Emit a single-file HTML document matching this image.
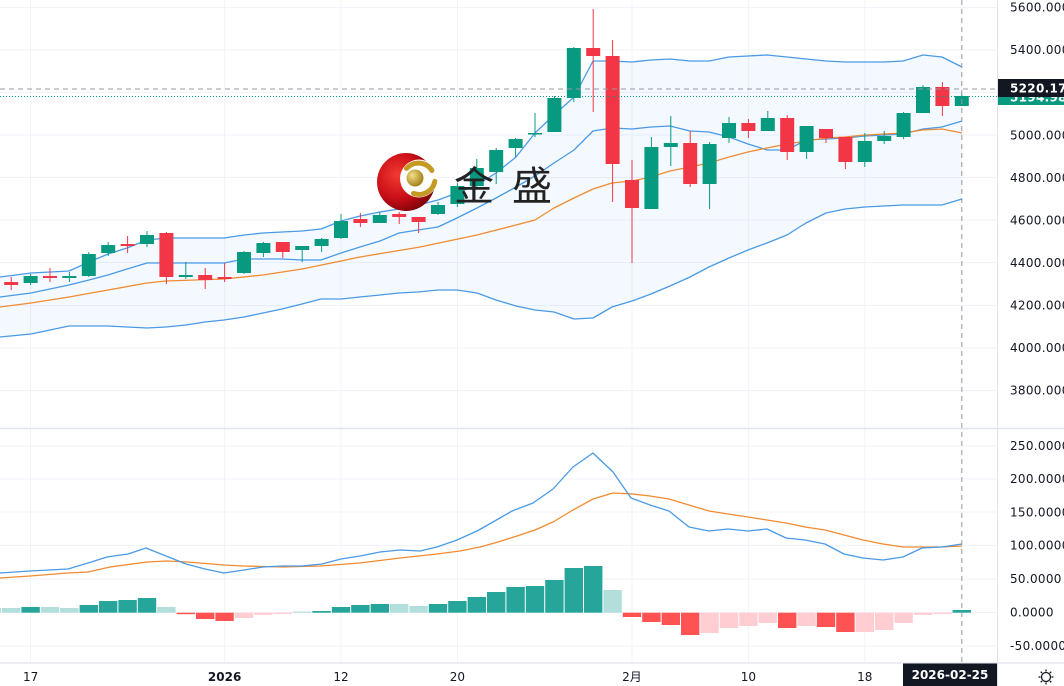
<!DOCTYPE html>
<html>
<head>
<meta charset="utf-8">
<style>
html,body{margin:0;padding:0;background:#fff;}
svg{display:block;}
.ax{font-family:"DejaVu Sans","Liberation Sans",sans-serif;font-size:12px;fill:#131722;}
</style>
</head>
<body>
<svg width="1064" height="686" viewBox="0 0 1064 686" xmlns="http://www.w3.org/2000/svg">
<defs>
<radialGradient id="rg" cx="35%" cy="38%" r="70%">
<stop offset="0" stop-color="#f23a32"/>
<stop offset="0.55" stop-color="#cc1018"/>
<stop offset="1" stop-color="#7a0008"/>
</radialGradient>
<radialGradient id="gg" cx="35%" cy="35%" r="70%">
<stop offset="0" stop-color="#f3df8a"/>
<stop offset="1" stop-color="#a07c14"/>
</radialGradient>
<clipPath id="chart"><rect x="0" y="0" width="997" height="663"/></clipPath>
</defs>
<rect width="1064" height="686" fill="#fff"/>

<g clip-path="url(#chart)">
<!-- grid -->
<g stroke="#f0f3fa" stroke-width="1">
<line x1="0" y1="7.5" x2="997" y2="7.5"/>
<line x1="0" y1="50" x2="997" y2="50"/>
<line x1="0" y1="92.5" x2="997" y2="92.5"/>
<line x1="0" y1="135" x2="997" y2="135"/>
<line x1="0" y1="177.5" x2="997" y2="177.5"/>
<line x1="0" y1="220" x2="997" y2="220"/>
<line x1="0" y1="262.5" x2="997" y2="262.5"/>
<line x1="0" y1="305.5" x2="997" y2="305.5"/>
<line x1="0" y1="348" x2="997" y2="348"/>
<line x1="0" y1="390.5" x2="997" y2="390.5"/>
<line x1="0" y1="446" x2="997" y2="446"/>
<line x1="0" y1="479" x2="997" y2="479"/>
<line x1="0" y1="512" x2="997" y2="512"/>
<line x1="0" y1="545.5" x2="997" y2="545.5"/>
<line x1="0" y1="579" x2="997" y2="579"/>
<line x1="0" y1="612.5" x2="997" y2="612.5"/>
<line x1="0" y1="646" x2="997" y2="646"/>
<line x1="30.6" y1="0" x2="30.6" y2="663"/>
<line x1="224.6" y1="0" x2="224.6" y2="663"/>
<line x1="341" y1="0" x2="341" y2="663"/>
<line x1="457.4" y1="0" x2="457.4" y2="663"/>
<line x1="632" y1="0" x2="632" y2="663"/>
<line x1="748.4" y1="0" x2="748.4" y2="663"/>
<line x1="864.8" y1="0" x2="864.8" y2="663"/>
</g>

<!-- Bollinger fill -->
<polygon fill="#2196f3" fill-opacity="0.055" points="0,277 31,273 50,272 69,271 89,262 108,254 127,248 147,240 166,238 186,238 205,238 224,238 244,235 263,233 282,232 302,231 321,229 341,221 360,216 380,212 399,209 418,205 438,200 457,193 477,185 496,173 516,157 535,133 554,115 574,97 593,61 612,61 632,62 651,60 670,59 690,61 709,61 729,57 748,56 767,55 787,57 806,59 826,61 845,62 865,62 884,62 903,61 923,55 942,57 962,67 962,199 942,205 923,205 903,205 884,206 865,207 845,209 826,213 806,223 787,235 767,243 748,250 729,258 709,267 690,277 670,286 651,294 632,301 612,307 593,318 574,319 554,312 535,310 516,306 496,300 477,293 457,290 438,290 418,292 399,293 380,295 360,297 341,299 321,299 302,304 282,309 263,313 244,317 224,320 205,322 186,325 166,327 147,328 127,327 108,326 89,326 69,326 50,330 31,334 0,337"/>
<g fill="none" stroke-width="1.3" stroke-linejoin="round">
<polyline stroke="#4a9ae6" points="0,277 31,273 50,272 69,271 89,262 108,254 127,248 147,240 166,238 186,238 205,238 224,238 244,235 263,233 282,232 302,231 321,229 341,221 360,216 380,212 399,209 418,205 438,200 457,193 477,185 496,173 516,157 535,133 554,115 574,97 593,61 612,61 632,62 651,60 670,59 690,61 709,61 729,57 748,56 767,55 787,57 806,59 826,61 845,62 865,62 884,62 903,61 923,55 942,57 962,67"/>
<polyline stroke="#4a9ae6" points="0,337 31,334 50,330 69,326 89,326 108,326 127,327 147,328 166,327 186,325 205,322 224,320 244,317 263,313 282,309 302,304 321,299 341,299 360,297 380,295 399,293 418,292 438,290 457,290 477,293 496,300 516,306 535,310 554,312 574,319 593,318 612,307 632,301 651,294 670,286 690,277 709,267 729,258 748,250 767,243 787,235 806,223 826,213 845,209 865,207 884,206 903,205 923,205 942,205 962,199"/>
<polyline stroke="#4a9ae6" points="0,297 31,293 50,289 69,285 89,280 108,275 127,269 147,263 166,263 186,263 205,263 224,263 244,259 263,259 282,259 302,260 321,260 341,253 360,247 380,241 399,233 418,230 438,227 457,218 477,208 496,198 516,187 535,176 554,163 574,150 593,131 612,128 632,129 651,127 670,126 690,131 709,132 729,137 748,144 767,150 787,150 806,140 826,139 845,138 865,136 884,135 903,134 923,129 942,127 962,121"/>
<polyline stroke="#f28b30" points="0,307 31,303 69,297 108,290 147,283 166,281 224,279 263,275 302,269 341,261 360,257 420,247 477,235 516,225 535,220 554,208 574,198 593,189 612,183 632,181 651,177 670,171 690,167 709,163 729,157 748,152 767,148 787,144 806,141 826,138 845,137 865,135 884,134 903,133 923,130 942,129 962,133"/>
</g>

<!-- candles: down -->
<g fill="#f23645" stroke="#f23645">
<line x1="11.2" y1="277" x2="11.2" y2="290"/><rect x="4.2" y="282" width="14" height="3" stroke="none"/>
<line x1="50" y1="268" x2="50" y2="282"/><rect x="43" y="276" width="14" height="2" stroke="none"/>
<line x1="127.6" y1="236" x2="127.6" y2="253"/><rect x="120.6" y="244" width="14" height="2" stroke="none"/>
<line x1="166.4" y1="232" x2="166.4" y2="284"/><rect x="159.4" y="233" width="14" height="44" stroke="none"/>
<line x1="205.2" y1="268" x2="205.2" y2="289"/><rect x="198.2" y="275" width="14" height="5" stroke="none"/>
<line x1="224.6" y1="263" x2="224.6" y2="282"/><rect x="217.6" y="277" width="14" height="2" stroke="none"/>
<line x1="282.8" y1="242" x2="282.8" y2="258"/><rect x="275.8" y="242" width="14" height="10" stroke="none"/>
<line x1="360.4" y1="213" x2="360.4" y2="227"/><rect x="353.4" y="219" width="14" height="4" stroke="none"/>
<line x1="399.2" y1="212" x2="399.2" y2="224"/><rect x="392.2" y="214" width="14" height="3" stroke="none"/>
<line x1="418.6" y1="217" x2="418.6" y2="233"/><rect x="411.6" y="217" width="14" height="5" stroke="none"/>
<line x1="593.2" y1="9" x2="593.2" y2="112"/><rect x="586.2" y="48" width="14" height="8" stroke="none"/>
<line x1="612.6" y1="40" x2="612.6" y2="202"/><rect x="605.6" y="56" width="14" height="108" stroke="none"/>
<line x1="632" y1="160" x2="632" y2="263"/><rect x="625" y="180" width="14" height="28" stroke="none"/>
<line x1="690.2" y1="131" x2="690.2" y2="187"/><rect x="683.2" y="143" width="14" height="41" stroke="none"/>
<line x1="748.4" y1="119" x2="748.4" y2="138"/><rect x="741.4" y="123" width="14" height="8" stroke="none"/>
<line x1="787.2" y1="115" x2="787.2" y2="160"/><rect x="780.2" y="118" width="14" height="34" stroke="none"/>
<line x1="826" y1="129" x2="826" y2="143"/><rect x="819" y="129" width="14" height="9" stroke="none"/>
<line x1="845.4" y1="137" x2="845.4" y2="169"/><rect x="838.4" y="137" width="14" height="25" stroke="none"/>
<line x1="942.4" y1="82" x2="942.4" y2="116"/><rect x="935.4" y="87" width="14" height="19" stroke="none"/>
</g>
<!-- candles: up -->
<g fill="#089981" stroke="#089981">
<line x1="30.6" y1="274" x2="30.6" y2="285"/><rect x="23.6" y="276" width="14" height="7" stroke="none"/>
<line x1="69.4" y1="272" x2="69.4" y2="282"/><rect x="62.4" y="276" width="14" height="2" stroke="none"/>
<line x1="88.8" y1="252" x2="88.8" y2="277"/><rect x="81.8" y="254" width="14" height="22" stroke="none"/>
<line x1="108.2" y1="242" x2="108.2" y2="256"/><rect x="101.2" y="245" width="14" height="8" stroke="none"/>
<line x1="147" y1="231" x2="147" y2="247"/><rect x="140" y="235" width="14" height="9" stroke="none"/>
<line x1="185.8" y1="262" x2="185.8" y2="279"/><rect x="178.8" y="275" width="14" height="2" stroke="none"/>
<line x1="244" y1="251" x2="244" y2="274"/><rect x="237" y="252" width="14" height="21" stroke="none"/>
<line x1="263.4" y1="242" x2="263.4" y2="257"/><rect x="256.4" y="243" width="14" height="10" stroke="none"/>
<line x1="302.2" y1="246" x2="302.2" y2="262"/><rect x="295.2" y="246" width="14" height="4" stroke="none"/>
<line x1="321.6" y1="238" x2="321.6" y2="252"/><rect x="314.6" y="239" width="14" height="7" stroke="none"/>
<line x1="341" y1="214" x2="341" y2="239"/><rect x="334" y="221" width="14" height="17" stroke="none"/>
<line x1="379.8" y1="212" x2="379.8" y2="223"/><rect x="372.8" y="215" width="14" height="8" stroke="none"/>
<line x1="438" y1="202" x2="438" y2="215"/><rect x="431" y="205" width="14" height="9" stroke="none"/>
<line x1="457.4" y1="183" x2="457.4" y2="207"/><rect x="450.4" y="186" width="14" height="18" stroke="none"/>
<line x1="476.8" y1="159" x2="476.8" y2="187"/><rect x="469.8" y="168" width="14" height="18" stroke="none"/>
<line x1="496.2" y1="148" x2="496.2" y2="184"/><rect x="489.2" y="150" width="14" height="22" stroke="none"/>
<line x1="515.6" y1="138" x2="515.6" y2="157"/><rect x="508.6" y="139" width="14" height="9" stroke="none"/>
<line x1="535" y1="113" x2="535" y2="137"/><rect x="528" y="133" width="14" height="1.5" stroke="none"/>
<line x1="554.4" y1="96" x2="554.4" y2="132"/><rect x="547.4" y="98" width="14" height="34" stroke="none"/>
<line x1="573.8" y1="47" x2="573.8" y2="102"/><rect x="566.8" y="48" width="14" height="50" stroke="none"/>
<line x1="651.4" y1="137" x2="651.4" y2="209"/><rect x="644.4" y="147" width="14" height="62" stroke="none"/>
<line x1="670.8" y1="116" x2="670.8" y2="166"/><rect x="663.8" y="143" width="14" height="4" stroke="none"/>
<line x1="709.6" y1="142" x2="709.6" y2="209"/><rect x="702.6" y="144" width="14" height="40" stroke="none"/>
<line x1="729" y1="117" x2="729" y2="143"/><rect x="722" y="123" width="14" height="15" stroke="none"/>
<line x1="767.8" y1="111" x2="767.8" y2="131"/><rect x="760.8" y="118" width="14" height="13" stroke="none"/>
<line x1="806.6" y1="126" x2="806.6" y2="159"/><rect x="799.6" y="126" width="14" height="26" stroke="none"/>
<line x1="864.8" y1="133" x2="864.8" y2="167"/><rect x="857.8" y="141" width="14" height="21" stroke="none"/>
<line x1="884.2" y1="131" x2="884.2" y2="144"/><rect x="877.2" y="136" width="14" height="5" stroke="none"/>
<line x1="903.6" y1="112" x2="903.6" y2="139"/><rect x="896.6" y="113" width="14" height="24" stroke="none"/>
<line x1="923" y1="85" x2="923" y2="113"/><rect x="916" y="87" width="14" height="26" stroke="none"/>
<line x1="961.8" y1="93" x2="961.8" y2="106"/><rect x="954.8" y="96" width="14" height="10" stroke="none"/>
</g>

<!-- MACD histogram -->
<g>
<rect x="-17.4" y="608" width="18.4" height="4.7" fill="#b2dfdb"/>
<rect x="2" y="608" width="18.4" height="4.7" fill="#b2dfdb"/>
<rect x="21.4" y="607" width="18.4" height="5.7" fill="#26a69a"/>
<rect x="40.8" y="607" width="18.4" height="5.7" fill="#b2dfdb"/>
<rect x="60.2" y="608" width="18.4" height="4.7" fill="#b2dfdb"/>
<rect x="79.6" y="605" width="18.4" height="7.7" fill="#26a69a"/>
<rect x="99" y="601" width="18.4" height="11.7" fill="#26a69a"/>
<rect x="118.4" y="600" width="18.4" height="12.7" fill="#26a69a"/>
<rect x="137.8" y="598" width="18.4" height="14.7" fill="#26a69a"/>
<rect x="157.2" y="607" width="18.4" height="5.7" fill="#b2dfdb"/>
<rect x="176.6" y="612.7" width="18.4" height="1.5" fill="#ff5252"/>
<rect x="196" y="612.7" width="18.4" height="6.3" fill="#ff5252"/>
<rect x="215.4" y="612.7" width="18.4" height="8.3" fill="#ff5252"/>
<rect x="234.8" y="612.7" width="18.4" height="5.3" fill="#ffcdd2"/>
<rect x="254.2" y="612.7" width="18.4" height="2.3" fill="#ffcdd2"/>
<rect x="273.6" y="612.7" width="18.4" height="1.3" fill="#ffcdd2"/>
<rect x="293" y="611.5" width="18.4" height="1.2" fill="#b2dfdb"/>
<rect x="312.4" y="611" width="18.4" height="1.7" fill="#26a69a"/>
<rect x="331.8" y="607" width="18.4" height="5.7" fill="#26a69a"/>
<rect x="351.2" y="605" width="18.4" height="7.7" fill="#26a69a"/>
<rect x="370.6" y="604" width="18.4" height="8.7" fill="#26a69a"/>
<rect x="390" y="604" width="18.4" height="8.7" fill="#b2dfdb"/>
<rect x="409.4" y="606" width="18.4" height="6.7" fill="#b2dfdb"/>
<rect x="428.8" y="604" width="18.4" height="8.7" fill="#26a69a"/>
<rect x="448.2" y="601" width="18.4" height="11.7" fill="#26a69a"/>
<rect x="467.6" y="597" width="18.4" height="15.7" fill="#26a69a"/>
<rect x="487" y="592" width="18.4" height="20.7" fill="#26a69a"/>
<rect x="506.4" y="587" width="18.4" height="25.7" fill="#26a69a"/>
<rect x="525.8" y="586" width="18.4" height="26.7" fill="#26a69a"/>
<rect x="545.2" y="580" width="18.4" height="32.7" fill="#26a69a"/>
<rect x="564.6" y="568" width="18.4" height="44.7" fill="#26a69a"/>
<rect x="584" y="566" width="18.4" height="46.7" fill="#26a69a"/>
<rect x="603.4" y="590" width="18.4" height="22.7" fill="#b2dfdb"/>
<rect x="622.8" y="612.7" width="18.4" height="4.3" fill="#ff5252"/>
<rect x="642.2" y="612.7" width="18.4" height="9.3" fill="#ff5252"/>
<rect x="661.6" y="612.7" width="18.4" height="12.3" fill="#ff5252"/>
<rect x="681" y="612.7" width="18.4" height="22.3" fill="#ff5252"/>
<rect x="700.4" y="612.7" width="18.4" height="20.3" fill="#ffcdd2"/>
<rect x="719.8" y="612.7" width="18.4" height="15.3" fill="#ffcdd2"/>
<rect x="739.2" y="612.7" width="18.4" height="13.3" fill="#ffcdd2"/>
<rect x="758.6" y="612.7" width="18.4" height="10.3" fill="#ffcdd2"/>
<rect x="778" y="612.7" width="18.4" height="15.3" fill="#ff5252"/>
<rect x="797.4" y="612.7" width="18.4" height="13.3" fill="#ffcdd2"/>
<rect x="816.8" y="612.7" width="18.4" height="14.3" fill="#ff5252"/>
<rect x="836.2" y="612.7" width="18.4" height="19.3" fill="#ff5252"/>
<rect x="855.6" y="612.7" width="18.4" height="19.3" fill="#ffcdd2"/>
<rect x="875" y="612.7" width="18.4" height="17.3" fill="#ffcdd2"/>
<rect x="894.4" y="612.7" width="18.4" height="10.3" fill="#ffcdd2"/>
<rect x="913.8" y="612.7" width="18.4" height="2.3" fill="#ffcdd2"/>
<rect x="933.2" y="612.7" width="18.4" height="1.3" fill="#ffcdd2"/>
<rect x="952.6" y="610" width="18.4" height="2.7" fill="#26a69a"/>
</g>
<!-- MACD lines -->
<g fill="none" stroke-width="1.3" stroke-linejoin="round">
<polyline stroke="#f28b30" points="0,578 30,576 68,573 88,572 110,567 147,562 167,561 187,562 224,565 243,566 283,567 320,566 360,563 400,558 437,554 460,551 480,547 498,542 517,536 535,530 553,522 573,510 593,499 613,493 632,494 650,496 669,499 689,505 709,511 728,514 748,517 767,520 786,523 805,527 825,530 844,535 863,540 883,544 903,547 922,547 942,547 962,546"/>
<polyline stroke="#4a9ae6" points="0,573 30,571 68,569 88,563 107,557 128,554 146,548 166,556 186,564 205,569 224,573 244,570 263,567 282,566 302,566 322,564 341,559 360,556 380,552 400,550 420,551 437,547 457,540 477,531 493,522 512,511 533,503 553,489 573,467 593,453 613,472 631,498 650,505 669,511 689,527 709,531 728,529 748,531 767,529 786,538 805,540 825,544 844,554 863,558 883,560 903,557 922,548 942,547 962,544"/>
</g>

<!-- crosshair / price lines -->
<line x1="0" y1="89" x2="997" y2="89" stroke="#9598a1" stroke-width="1" stroke-dasharray="5 4"/>
<line x1="0" y1="96.5" x2="997" y2="96.5" stroke="#089981" stroke-width="1" stroke-dasharray="1 2"/>
<line x1="961.8" y1="0" x2="961.8" y2="663" stroke="#9598a1" stroke-width="1" stroke-dasharray="5 4"/>

<!-- logo watermark -->
<circle cx="406" cy="182" r="29" fill="url(#rg)"/>
<circle cx="419" cy="178.5" r="19" fill="#fff"/>
<path d="M406.5,168.4 A16,16 0 0 1 431.9,170.5" fill="none" stroke="#c49a22" stroke-width="5" stroke-linecap="round"/>
<path d="M434.8,181.3 A16,16 0 0 1 413.5,193.4" fill="none" stroke="#c49a22" stroke-width="5" stroke-linecap="round"/>
<circle cx="415" cy="178" r="8.5" fill="url(#gg)"/>
<text x="454" y="200" font-family="'Noto Sans CJK SC','WenQuanYi Zen Hei',sans-serif" font-size="40" font-weight="400" fill="#222">金</text>
<text x="512" y="200" font-family="'Noto Sans CJK SC','WenQuanYi Zen Hei',sans-serif" font-size="40" font-weight="400" fill="#222">盛</text>
</g>

<!-- pane separator & axis borders -->
<line x1="0" y1="428.5" x2="1064" y2="428.5" stroke="#e0e3eb" stroke-width="1.5"/>
<line x1="997.5" y1="0" x2="997.5" y2="686" stroke="#e0e3eb" stroke-width="1"/>
<line x1="0" y1="663" x2="1064" y2="663" stroke="#e0e3eb" stroke-width="1.2"/>

<!-- right axis labels -->
<g class="ax" dominant-baseline="central" letter-spacing="0.3">
<text x="1010" y="7.5">5600.0000</text>
<text x="1010" y="50">5400.0000</text>
<text x="1010" y="135.5">5000.0000</text>
<text x="1010" y="178">4800.0000</text>
<text x="1010" y="220.5">4600.0000</text>
<text x="1010" y="263">4400.0000</text>
<text x="1010" y="305.5">4200.0000</text>
<text x="1010" y="348">4000.0000</text>
<text x="1010" y="390.5">3800.0000</text>
<text x="1010" y="446">250.0000</text>
<text x="1010" y="479">200.0000</text>
<text x="1010" y="512.5">150.0000</text>
<text x="1010" y="545.5">100.0000</text>
<text x="1010" y="579">50.0000</text>
<text x="1010" y="612.5">0.0000</text>
<text x="1010" y="646">-50.0000</text>
</g>
<!-- price labels -->
<rect x="998" y="87" width="66" height="18" fill="#089981"/>
<text x="1010" y="97.5" class="ax" dominant-baseline="central" style="fill:#fff;font-weight:bold" letter-spacing="0.3">5194.9800</text>
<rect x="998" y="79" width="66" height="18" fill="#131722"/>
<text x="1010" y="88.5" class="ax" dominant-baseline="central" style="fill:#fff;font-weight:bold" letter-spacing="0.3">5220.1700</text>

<!-- time axis -->
<g class="ax" text-anchor="middle" dominant-baseline="central">
<text x="30.6" y="677">17</text>
<text x="224.6" y="677" font-weight="bold">2026</text>
<text x="341" y="677">12</text>
<text x="457.4" y="677">20</text>
<text x="632" y="677" style="font-family:'DejaVu Sans','Noto Sans CJK SC',sans-serif">2月</text>
<text x="748.4" y="677">10</text>
<text x="864.8" y="677">18</text>
</g>
<rect x="903" y="663.5" width="94" height="22.5" fill="#131722"/>
<text x="950" y="675" class="ax" text-anchor="middle" dominant-baseline="central" style="fill:#fff;font-weight:bold">2026-02-25</text>

<!-- settings icon -->
<g transform="translate(1046,677)" stroke="#131722" stroke-width="1.3" fill="none">
<circle r="4.5"/>
<line x1="0" y1="-5.5" x2="0" y2="-7.5"/>
<line x1="0" y1="5.5" x2="0" y2="7.5"/>
<line x1="-5.5" y1="0" x2="-7.5" y2="0"/>
<line x1="5.5" y1="0" x2="7.5" y2="0"/>
<line x1="3.9" y1="3.9" x2="5.3" y2="5.3"/>
<line x1="-3.9" y1="3.9" x2="-5.3" y2="5.3"/>
<line x1="3.9" y1="-3.9" x2="5.3" y2="-5.3"/>
<line x1="-3.9" y1="-3.9" x2="-5.3" y2="-5.3"/>
</g>
</svg>
</body>
</html>
